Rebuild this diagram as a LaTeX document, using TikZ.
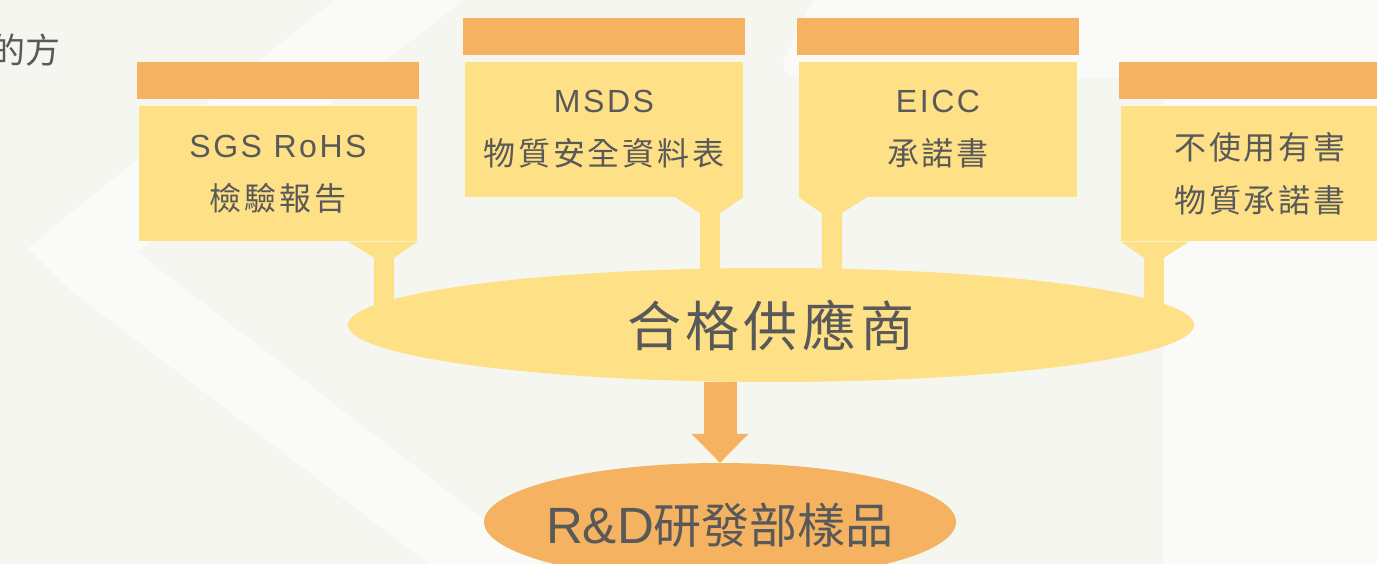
\documentclass[tikz,border=0pt]{standalone}
\usepackage{fontspec}
\setmainfont{Liberation Sans}
\newfontfamily\cjk{Noto Sans CJK TC}
\newfontfamily\cjkwide{Noto Sans CJK TC}[LetterSpace=9]
\newfontfamily\latwide{Liberation Sans}[LetterSpace=8]
\newfontfamily\cjkhub{Noto Sans CJK TC}[LetterSpace=8]
\usetikzlibrary{positioning,shapes.geometric,arrows.meta}
\definecolor{pagebg}{HTML}{F5F6F0}
\definecolor{pagelight}{HTML}{FAFAF8}
\definecolor{taborange}{HTML}{F5B260}
\definecolor{boxyellow}{HTML}{FEE086}
\definecolor{txtgray}{HTML}{595959}

\begin{document}
\begin{tikzpicture}[x=1pt, y=-1pt,
  box/.style = {fill=boxyellow, minimum width=278pt, minimum height=135pt, inner sep=0pt, align=center, text=txtgray, font=\fontsize{32}{53}\selectfont},
  headbar/.style = {fill=taborange, minimum width=282pt, minimum height=37pt, inner sep=0pt},
  stem/.style = {draw=boxyellow, line width=20pt},
  supplier/.style = {ellipse, fill=boxyellow, minimum width=846pt, minimum height=114pt, inner sep=0pt, text=txtgray, font=\cjkhub\fontsize{54}{60}\selectfont},
  sample/.style = {ellipse, fill=taborange, minimum width=472pt, minimum height=118pt, inner sep=0pt},
  sampletext/.style = {inner sep=0pt, text=txtgray, yshift=-3pt, font=\fontsize{51}{56}\selectfont}]
\useasboundingbox (0,0) rectangle (1377,564);
\clip (0,0) rectangle (1377,564);

% background
\fill[pagebg] (0,0) rectangle (1377,564);
\fill[pagelight] (334,0) -- (28,248) -- (70,290) -- (429,564) -- (542,564) -- (137,252) -- (464,0) -- cycle;
\fill[pagelight] (813,0) -- (1377,0) -- (1377,564) -- (1163,564) -- (1163,96) to[out=-90,in=0] (1145,78) -- (800,78) to[out=180,in=-90] (783,62) -- cycle;
\node[anchor=east, text=txtgray, font=\cjk\fontsize{35}{40}\selectfont] (corner) at (64,50) {的方};

% boxes
\node[box] (sgs) at (278,174) {{\latwide SGS RoHS}\\{\cjkwide 檢驗報告}};
\node[box] (msds) at (604,129.5) {{\latwide MSDS}\\{\cjkwide 物質安全資料表}};
\node[box] (eicc) at (938,129.5) {{\latwide EICC}\\{\cjkwide 承諾書}};
\node[box] (free) at (1260,174) {{\cjkwide 不使用有害}\\{\cjkwide 物質承諾書}};
\node[headbar] (sgsbar) [above=7pt of sgs] {};
\node[headbar] (msdsbar) [above=7pt of msds] {};
\node[headbar] (eiccbar) [above=7pt of eicc] {};
\node[headbar] (freebar) [above=7pt of free] {};

% tails down to the supplier ellipse
\coordinate (hub) at (771,325);
\fill[boxyellow] (sgs.south east) -- ++(-69,0) -- ++(26,16) -- ++(20,0) -- cycle;
\fill[boxyellow] (msds.south east) -- ++(-68,0) -- ++(25,16) -- ++(20,0) -- cycle;
\fill[boxyellow] (eicc.south west) -- ++(68,0) -- ++(-25,16) -- ++(-20,0) -- cycle;
\fill[boxyellow] (free.south west) -- ++(68,0) -- ++(-25,16) -- ++(-20,0) -- cycle;
\coordinate (t1) at ([xshift=-33pt]sgs.south east);
\coordinate (t2) at ([xshift=-33pt]msds.south east);
\coordinate (t3) at ([xshift=33pt]eicc.south west);
\coordinate (t4) at ([xshift=33pt]free.south west);
\draw[stem] (t1) -- (t1 |- hub);
\draw[stem] (t2) -- (t2 |- hub);
\draw[stem] (t3) -- (t3 |- hub);
\draw[stem] (t4) -- (t4 |- hub);

\node[supplier] (sup) at (hub) {合格供應商};
\node[sample, label={[sampletext]center:R\&D{\cjk\fontsize{48}{56}\selectfont 研發部樣品}}] (rd) at (720,522) {};
\draw[taborange, line width=33pt, -{Triangle[width=57pt, length=29pt, line width=0pt]}] (rd |- sup.south) -- (rd.north);
\end{tikzpicture}
\end{document}
